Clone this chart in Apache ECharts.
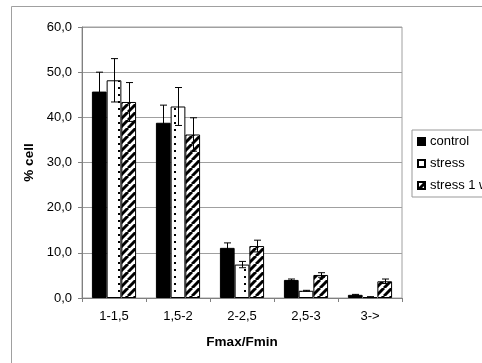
<!DOCTYPE html>
<html>
<head>
<meta charset="utf-8">
<script src="https://cdn.jsdelivr.net/npm/echarts@6/dist/echarts.min.js"></script>
<style>
  html, body { margin: 0; padding: 0; background: #fff; }
  #chart { width: 482px; height: 363px; }
</style>
</head>
<body>
<div id="chart"></div>
<script>
const categories = ["1-1,5", "1,5-2", "2-2,5", "2,5-3", "3->"];
const seriesNames = ["control", "stress", "stress 1 week"];
const control = [45.7, 38.8, 11.1, 4.0, 0.7];
const controlErr = [4.3, 3.9, 1.1, 0.2, 0.1];
const stress = [48.2, 42.4, 7.4, 1.6, 0.2];
const stressErr = [4.8, 4.2, 0.7, 0.1, 0.1];
const stress1w = [43.4, 36.2, 11.5, 5.1, 3.7];
const stress1wErr = [4.3, 3.7, 1.3, 0.5, 0.5];

// fill patterns
function dotPattern() {
  const c = document.createElement("canvas");
  c.width = 14; c.height = 7;
  const ctx = c.getContext("2d");
  ctx.fillStyle = "#fff";
  ctx.fillRect(0, 0, 14, 7);
  ctx.fillStyle = "#000";
  ctx.fillRect(6, 3, 2, 2);
  return c;
}
function stripePattern() {
  const s = 8;
  const c = document.createElement("canvas");
  c.width = s; c.height = s;
  const ctx = c.getContext("2d");
  ctx.fillStyle = "#fff";
  ctx.fillRect(0, 0, s, s);
  ctx.strokeStyle = "#000";
  ctx.lineWidth = 3;
  for (let k = -1; k <= 1; k++) {
    ctx.beginPath();
    ctx.moveTo(k * s, s);
    ctx.lineTo(k * s + s, 0);
    ctx.stroke();
  }
  return c;
}

const fills = [
  "#000",
  { image: dotPattern(), repeat: "repeat" },
  { image: stripePattern(), repeat: "repeat" },
];
const values = [control, stress, stress1w];
const errors = [controlErr, stressErr, stress1wErr];

const errData = [];
values.forEach((vals, s) => {
  vals.forEach((v, i) => {
    errData.push([i, v - errors[s][i], v + errors[s][i], s]);
  });
});

const catGap = 0.31;

const chart = echarts.init(document.getElementById("chart"));
chart.setOption({
  animation: false,
  backgroundColor: "#fff",
  textStyle: { fontFamily: "Liberation Sans, Arial, sans-serif" },
  graphic: [
    {
      type: "rect",
      shape: { x: 11.5, y: 6.5, width: 480, height: 370 },
      style: { fill: "none", stroke: "#a0a0a0", lineWidth: 1 },
      silent: true,
    },
  ],
  grid: {
    left: 82, right: 80, top: 27, bottom: 65,
    show: true, borderColor: "#a0a0a0", borderWidth: 1,
  },
  legend: {
    orient: "vertical",
    left: 412, top: 130,
    data: seriesNames,
    icon: "rect",
    itemWidth: 7, itemHeight: 7,
    itemGap: 9,
    borderColor: "#999", borderWidth: 1,
    padding: [5, 40, 5, 5],
    textStyle: { fontSize: 13, color: "#000" },
  },
  xAxis: {
    type: "category",
    data: categories,
    name: "Fmax/Fmin",
    nameLocation: "middle",
    nameGap: 37,
    nameTextStyle: { fontWeight: "bold", fontSize: 13.5, color: "#000" },
    axisLine: { lineStyle: { color: "#808080" } },
    axisTick: { show: true, length: 4, lineStyle: { color: "#808080" } },
    axisLabel: { color: "#000", fontSize: 13, margin: 12 },
  },
  yAxis: {
    type: "value",
    min: 0, max: 60, interval: 10,
    name: "% cell",
    nameLocation: "middle",
    nameGap: 40,
    nameTextStyle: { fontWeight: "bold", fontSize: 13.5, color: "#000" },
    axisLine: { show: true, lineStyle: { color: "#808080" } },
    axisTick: { show: true, length: 4, lineStyle: { color: "#808080" } },
    axisLabel: {
      color: "#000", fontSize: 13, margin: 10,
      formatter: (v) => v.toFixed(1).replace(".", ","),
    },
    splitLine: { lineStyle: { color: "#a0a0a0" } },
  },
  series: [
    ...seriesNames.map((name, s) => ({
      name,
      type: "bar",
      data: values[s],
      barGap: "0%",
      barCategoryGap: catGap * 100 + "%",
      itemStyle: { color: fills[s], borderColor: "#000", borderWidth: 1 },
    })),
    {
      type: "custom",
      z: 10,
      silent: true,
      data: errData,
      renderItem(params, api) {
        const i = api.value(0);
        const s = api.value(3);
        const band = api.size([1, 0])[0];
        const barW = band * (1 - catGap) / 3;
        const lo = api.coord([i, api.value(1)]);
        const hi = api.coord([i, api.value(2)]);
        const x = Math.round(lo[0] + (s - 1) * barW) + 0.5;
        const cap = 3.5;
        const style = { stroke: "#000", lineWidth: 1, fill: null };
        return {
          type: "group",
          children: [
            { type: "line", shape: { x1: x, y1: lo[1], x2: x, y2: hi[1] }, style },
            { type: "line", shape: { x1: x - cap, y1: hi[1], x2: x + cap, y2: hi[1] }, style },
            { type: "line", shape: { x1: x - cap, y1: lo[1], x2: x + cap, y2: lo[1] }, style },
          ],
        };
      },
    },
  ],
});
</script>
</body>
</html>
